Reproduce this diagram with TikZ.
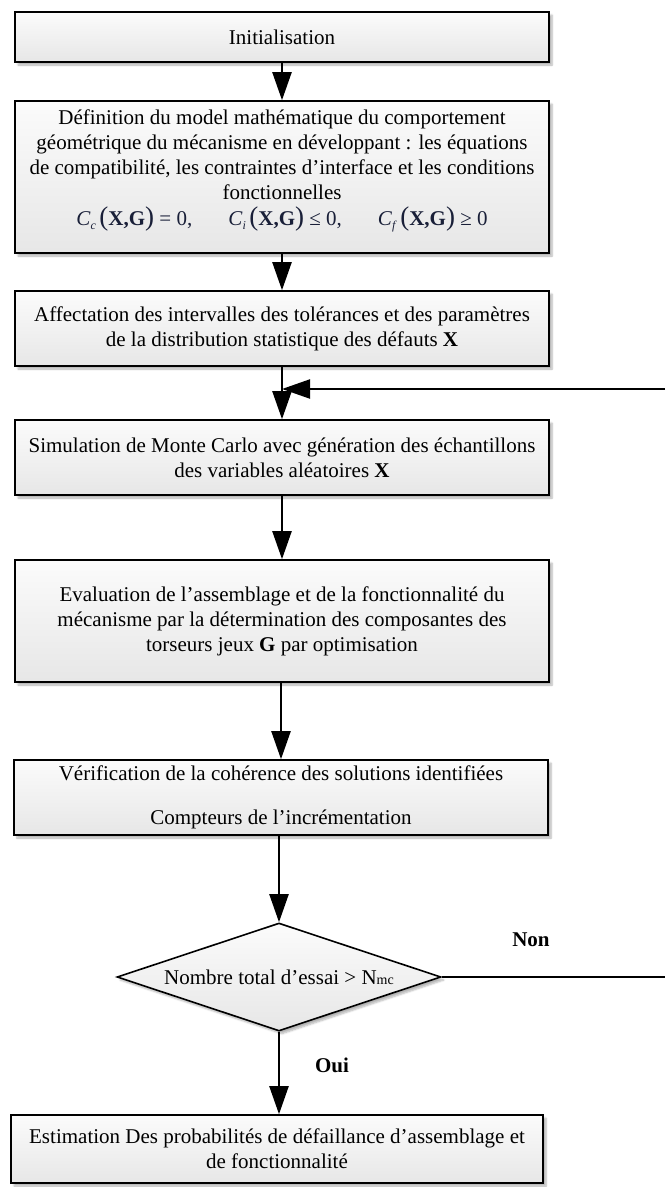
\documentclass[tikz,border=0pt]{standalone}
\usepackage{fontspec}
\setmainfont{Liberation Serif}
\usetikzlibrary{arrows.meta,shapes.geometric,shadows.blur}

\definecolor{boxtop}{gray}{0.985}
\definecolor{boxbot}{gray}{0.905}
\definecolor{eqcol}{rgb}{0.10,0.12,0.22}

\tikzset{
  base/.style={draw=black, line width=1.6pt, top color=boxtop, bottom color=boxbot,
    inner sep=0pt, align=center,
    blur shadow={shadow xshift=3pt, shadow yshift=-3pt, shadow blur steps=6, shadow opacity=30}},
  stepbox/.style={base, rectangle, minimum width=534pt},
  decision/.style={base, diamond, aspect=3, minimum width=324pt, minimum height=108pt},
  flow/.style={line width=2.2pt, -{Triangle[length=28pt,width=19pt]}},
  plain/.style={line width=2.2pt},
  tag/.style={font=\fontsize{21}{25}\selectfont\bfseries, inner sep=0pt}
}

% parenthesised argument of the constraint functions
\newcommand{\argXG}{\,{\fontsize{27}{27}\selectfont(}\textbf{X,G}{\fontsize{27}{27}\selectfont)}}
% small italic index under C
\newcommand{\idx}[1]{\raisebox{-4pt}{\fontsize{12}{12}\selectfont\textit{#1}}}

\begin{document}
\begin{tikzpicture}[x=1pt, y=-1pt, font=\fontsize{21}{25}\selectfont]
\useasboundingbox (0,0) rectangle (665,1187);

\node[stepbox, minimum height=50pt] (b1) at (282,37) {Initialisation};

\node[stepbox, minimum height=152pt] (b2) at (282,177) {%
  Définition du model mathématique du comportement\\
  géométrique du mécanisme en développant : les équations\\
  de compatibilité, les contraintes d’interface et les conditions\\
  fonctionnelles\\[1pt]
  {\color{eqcol}\textit{C}\idx{c}\argXG\ = 0,\hspace{36pt}%
   \textit{C}\idx{i}\argXG\ ≤ 0,\hspace{36pt}%
   \textit{C}\idx{f}\argXG\ ≥ 0}\\[-6pt]\mbox{}};

\node[stepbox, minimum height=75pt] (b3) at (282,328.5) {%
  Affectation des intervalles des tolérances et des paramètres\\
  de la distribution statistique des défauts \textbf{X}};

\node[stepbox, minimum height=75pt] (b4) at (282,457.5) {%
  Simulation de Monte Carlo avec génération des échantillons\\
  des variables aléatoires \textbf{X}};

\node[stepbox, minimum height=122pt] (b5) at (282,621) {%
  Evaluation de l’assemblage et de la fonctionnalité du\\
  mécanisme par la détermination des composantes des\\
  torseurs jeux \textbf{G} par optimisation};

\node[stepbox, minimum height=75pt] (b6) at (281,797.5) {%
  Vérification de la cohérence des solutions identifiées\\[19pt]
  Compteurs de l’incrémentation};

\node[decision] (d) at (279,977) {Nombre total d’essai > N{\fontsize{14}{14}\selectfont mc}};

\node[stepbox, minimum width=532pt, minimum height=68pt] (b7) at (277,1149) {%
  Estimation Des probabilités de défaillance d’assemblage et\\
  de fonctionnalité};

% loop-back connectors, leaving the picture on the right
\coordinate (loopin) at (665,389);
\coordinate (join) at (282,389);
\coordinate (loopout) at (665,977);

\draw[flow] (b1.south) -- (b2.north);
\draw[flow] (b2.south) -- (b3.north);
\draw[flow] (b3.south) -- (b4.north);
\draw[flow] (loopin) -- (join);
\draw[flow] (b4.south) -- (b5.north);
\draw[flow] (b5.south -| b6.north) -- (b6.north);
\draw[flow] (b6.south -| d.north) -- (d.north);
\draw[plain] (d.east) -- (loopout);
\draw[flow] (d.south) -- (d.south |- b7.north);

\node[tag] (non) at (531,940) {Non};
\node[tag] (oui) at (332,1065) {Oui};
\end{tikzpicture}
\end{document}
